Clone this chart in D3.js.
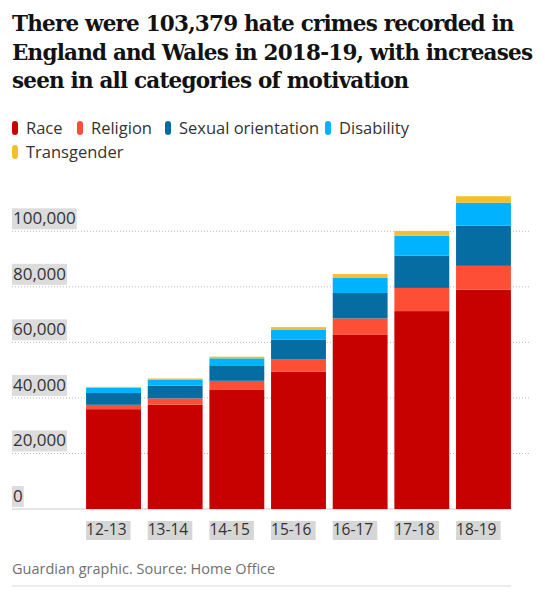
<!DOCTYPE html>
<html>
<head>
<meta charset="utf-8">
<script src="https://cdn.jsdelivr.net/npm/d3@7"></script>
<style>
  body { margin: 0; background: #fff; }
  text { font-family: "Open Sans", "Noto Sans", sans-serif; }
</style>
</head>
<body>
<div id="chart"></div>
<script>
const years = ["12-13", "13-14", "14-15", "15-16", "16-17", "17-18", "18-19"];
const race = [35944, 37575, 42862, 49419, 62685, 71264, 78991];
const religion = [1572, 2264, 3293, 4400, 5949, 8339, 8566];
const sexualOrientation = [4267, 4588, 5591, 7194, 9157, 11592, 14491];
const disability = [1841, 2020, 2515, 3629, 5558, 7221, 8256];
const transgender = [364, 559, 607, 858, 1248, 1703, 2333];
const categories = ["Race", "Religion", "Sexual orientation", "Disability", "Transgender"];
const colors = ["#c70000", "#ff4e36", "#056da1", "#00b2ff", "#f5be2c"];
const yTicks = [0, 20000, 40000, 60000, 80000, 100000];

const W = 545, H = 600;
const svg = d3.select("#chart").append("svg").attr("width", W).attr("height", H);

// title
const title = ["There were 103,379 hate crimes recorded in",
  "England and Wales in 2018-19, with increases",
  "seen in all categories of motivation"];
svg.selectAll(".title").data(title).enter().append("text")
  .attr("x", 12).attr("y", (d, i) => 31 + i * 28.5)
  .style("font-family", "'DejaVu Serif', serif")
  .style("font-weight", "bold")
  .style("font-size", "21.5px")
  .style("letter-spacing", "-0.8px")
  .style("fill", "#121212")
  .text(d => d);

// legend
const legendPos = [[12, 134], [77, 134], [165, 134], [325, 134], [12, 158]];
const lg = svg.selectAll(".lg").data(categories).enter().append("g")
  .attr("transform", (d, i) => "translate(" + legendPos[i][0] + "," + legendPos[i][1] + ")");
lg.append("rect").attr("x", 0).attr("y", -13).attr("width", 6).attr("height", 14)
  .attr("rx", 3).attr("fill", (d, i) => colors[i]);
lg.append("text").attr("x", 14).attr("y", 0)
  .style("font-size", "16.5px").style("fill", "#333").text(d => d);

// data
const table = years.map((y, i) => ({
  year: y, "Race": race[i], "Religion": religion[i],
  "Sexual orientation": sexualOrientation[i], "Disability": disability[i],
  "Transgender": transgender[i]
}));
const stack = d3.stack().keys(categories)(table);

const x = d3.scaleBand().domain(years).range([83, 514]).paddingInner(0.11).paddingOuter(0.05);
const y = d3.scaleLinear().domain([0, 100000]).range([509, 231.3]);

// grid
svg.selectAll(".grid").data(yTicks.slice(1)).enter().append("line")
  .attr("x1", 12).attr("x2", 530)
  .attr("y1", d => y(d)).attr("y2", d => y(d))
  .attr("stroke", "#bbb").attr("stroke-dasharray", "1,2");
svg.append("line").attr("x1", 12).attr("x2", 511).attr("y1", y(0)).attr("y2", y(0))
  .attr("stroke", "#dcdcdc").attr("stroke-width", 1.5);

// bars
svg.selectAll(".series").data(stack).enter().append("g")
  .attr("fill", (d, i) => colors[i])
  .selectAll("rect").data(d => d).enter().append("rect")
  .attr("x", d => x(d.data.year))
  .attr("width", x.bandwidth())
  .attr("y", d => y(d[1]))
  .attr("height", d => y(d[0]) - y(d[1]));

// y labels with grey background
const fmt = d3.format(",");
const yl = svg.selectAll(".yl").data(yTicks).enter().append("g");
yl.append("text").attr("class", "ylab")
  .attr("x", 13).attr("y", d => y(d) - 7)
  .style("font-size", "17px").style("fill", "#333").text(d => fmt(d));
yl.each(function() {
  const t = d3.select(this).select("text");
  const b = t.node().getBBox();
  d3.select(this).insert("rect", "text").attr("x", 12).attr("y", b.y + 2)
    .attr("width", b.width + 2).attr("height", b.height - 2).attr("fill", "#dcdcdc");
});

// x labels with grey background
const xl = svg.selectAll(".xl").data(years).enter().append("g");
xl.append("text").attr("x", d => x(d)).attr("y", 535)
  .style("font-size", "15.5px").style("fill", "#333").text(d => d);
xl.each(function(d) {
  const t = d3.select(this).select("text");
  const b = t.node().getBBox();
  d3.select(this).insert("rect", "text").attr("x", x(d)).attr("y", 521)
    .attr("width", b.width + 4).attr("height", 19).attr("fill", "#d6d6d6");
});

// footer
svg.append("text").attr("x", 12).attr("y", 574)
  .style("font-size", "14.5px").style("fill", "#707070")
  .text("Guardian graphic. Source: Home Office");
svg.append("line").attr("x1", 12).attr("x2", 511).attr("y1", 586).attr("y2", 586)
  .attr("stroke", "#e6e6e6").attr("stroke-width", 1.5);
</script>
</body>
</html>
